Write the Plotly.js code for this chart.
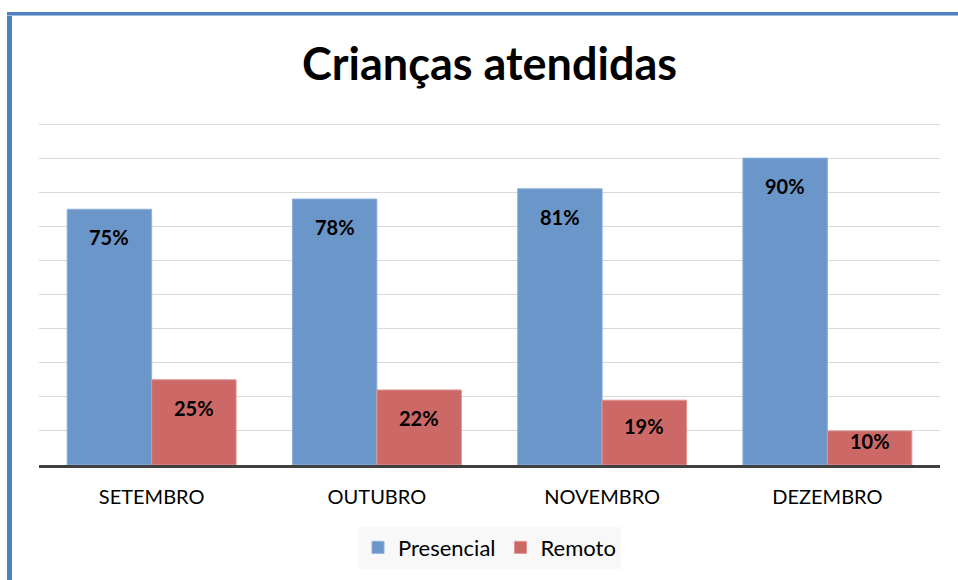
<!DOCTYPE html>
<html>
<head>
<meta charset="utf-8">
<script src="https://cdn.plot.ly/plotly-3.0.1.min.js"></script>
<style>
  html, body { margin: 0; padding: 0; background: #fff; }
  #wrap { position: relative; width: 958px; height: 580px; overflow: hidden; }
  #frameL { position: absolute; left: 7px; top: 12px; width: 5px; height: 580px; background: #4f81bd; }
  #frameT { position: absolute; left: 7px; top: 12px; width: 951px; height: 3px; background: #4f81bd; border-bottom: 1px solid #9fbde0; }
  #chart { position: absolute; left: 0; top: 0; width: 958px; height: 580px; }
</style>
</head>
<body>
<div id="wrap">
  <div id="chart"></div>
  <div id="frameL"></div>
  <div id="frameT"></div>
</div>
<script>
const categories = ["SETEMBRO", "OUTUBRO", "NOVEMBRO", "DEZEMBRO"];
const presencial = [75, 78, 81, 90];
const remoto = [25, 22, 19, 10];
const seriesNames = ["Presencial", "Remoto"];

const FONT = "Lato, 'Open Sans', sans-serif";
const blue = "#6a96c9";
const red = "#cc6866";

const traces = [
  {type: "bar", name: seriesNames[0], x: categories, y: presencial,
   marker: {color: blue, line: {color: "#8fb0d8", width: 1}}, hoverinfo: "skip"},
  {type: "bar", name: seriesNames[1], x: categories, y: remoto,
   marker: {color: red, line: {color: "#dd9593", width: 1}}, hoverinfo: "skip"}
];

// data labels (inside end), computed from the data
const plotH = 342, yMax = 100.3;
const annotations = [];
[presencial, remoto].forEach((vals, s) => {
  vals.forEach((v, i) => {
    const hpx = v / yMax * plotH;
    const shift = Math.min(28, hpx / 2 - 7);
    annotations.push({
      x: i + (s === 0 ? -0.1875 : 0.1875), y: v, xref: "x", yref: "y",
      text: v + "%", showarrow: false, yanchor: "middle", yshift: -shift,
      font: {family: FONT, size: 20, color: "#000", weight: "bold"}
    });
  });
});

const layout = {
  width: 958, height: 580,
  margin: {l: 39, r: 18, t: 123, b: 115},
  paper_bgcolor: "rgba(0,0,0,0)", plot_bgcolor: "rgba(0,0,0,0)",
  title: {text: "<b>Crianças atendidas</b>", font: {family: FONT, size: 45, color: "#000"},
          x: 0.511, xanchor: "center", y: 0.89, yanchor: "middle"},
  barmode: "group", bargap: 0.25, bargroupgap: 0,
  showlegend: true,
  legend: {orientation: "h", x: 0.5, xanchor: "center", y: -0.18, yanchor: "top",
           bgcolor: "#f8f8f8", font: {family: FONT, size: 22, color: "#000"},
           traceorder: "normal", itemwidth: 30},
  xaxis: {type: "category", showline: true, linecolor: "#404040", linewidth: 3,
          tickfont: {family: FONT, size: 20, color: "#000"}, ticks: "", ticklabelstandoff: 12,
          showgrid: false, fixedrange: true},
  yaxis: {range: [0, yMax], dtick: 10, showgrid: true, gridcolor: "#d9d9d9", gridwidth: 1,
          showticklabels: false, zeroline: false, showline: false, fixedrange: true},
  annotations: annotations
};

Plotly.newPlot("chart", traces, layout, {displayModeBar: false, staticPlot: true});
</script>
</body>
</html>
